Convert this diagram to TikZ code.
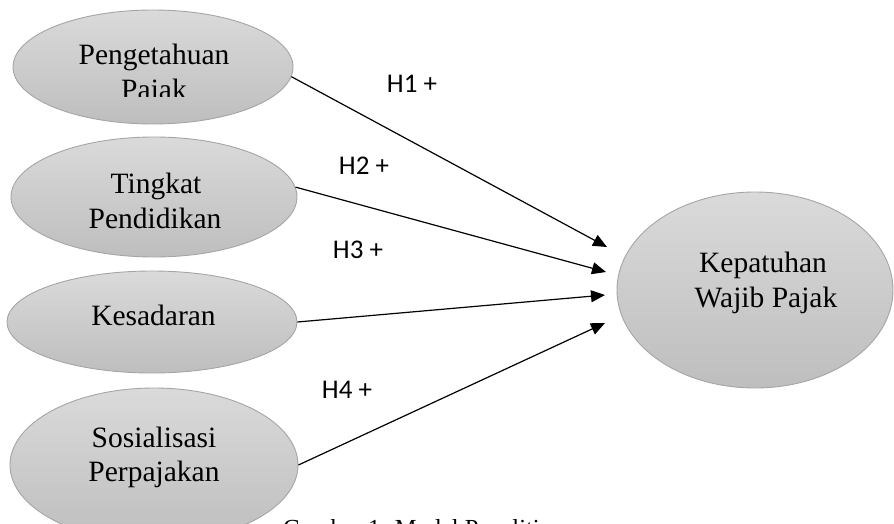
\documentclass[tikz,border=0pt]{standalone}
\usepackage{fontspec}
\setmainfont{Liberation Serif}
\newfontfamily\hfont{Carlito}
\usetikzlibrary{shapes.geometric,arrows.meta}
\definecolor{elltop}{HTML}{DADADA}
\definecolor{ellbot}{HTML}{BEBEBE}
\definecolor{elledge}{HTML}{A5A5A5}
\tikzset{
  var/.style={ellipse, draw=elledge, line width=0.9pt, top color=elltop, bottom color=ellbot, inner sep=0pt},
  vtext/.style={anchor=base, inner sep=0pt, font=\fontsize{29.5}{35}\selectfont},
  hlab/.style={inner sep=0pt, font=\hfont\fontsize{27}{32}\selectfont},
  link/.style={line width=1.2pt, -{Triangle[length=14pt,width=12pt]}}
}
\begin{document}
\begin{tikzpicture}[x=1pt,y=-1pt]
\useasboundingbox (0,0) rectangle (894,524);
% ellipses
\node[var, minimum width=280pt, minimum height=114pt] (e1) at (153,67) {};
\node[var, minimum width=286pt, minimum height=120pt] (e2) at (154,197) {};
\node[var, minimum width=290pt, minimum height=102pt] (e3) at (152,322) {};
\node[var, minimum width=288pt, minimum height=154pt] (e4) at (154,465) {};
\node[var, minimum width=276pt, minimum height=196pt] (e5) at (755,290) {};
% texts
\begin{scope}
\clip (0,0) rectangle (894,97);
\node[vtext] (t1a) at (154,65) {Pengetahuan};
\node[vtext] (t1b) at (154,100) {Pajak};
\end{scope}
\node[vtext] (t2a) at (156,193) {Tingkat};
\node[vtext] (t2b) at (155,228) {Pendidikan};
\node[vtext] (t3a) at (153.5,325) {Kesadaran};
\node[vtext] (t4a) at (154,447) {Sosialisasi};
\node[vtext] (t4b) at (154,481) {Perpajakan};
\node[vtext] (t5a) at (763,272) {Kepatuhan};
\node[vtext] (t5b) at (766,307) {Wajib Pajak};
% arrow tips
\coordinate (p1) at (607,247);
\coordinate (p2) at (606,272);
\coordinate (p3) at (605,295);
\coordinate (p4) at (605,323);
\draw[link] (e1.-4.5) -- (p1);
\draw[link] (e2.4.7) -- (p2);
\draw[link] (e3.0.8) -- (p3);
\draw[link] (e4.east) -- (p4);
% labels
\node[hlab] (h1) at (412,84) {H1 +};
\node[hlab] (h2) at (364,166) {H2 +};
\node[hlab] (h3) at (358,250) {H3 +};
\node[hlab] (h4) at (347,390) {H4 +};
% caption
\node[anchor=base west, inner sep=0pt, font=\fontsize{24.5}{29}\selectfont] (cap) at (283,536) {Gambar 1. Model Penelitian};
\end{tikzpicture}
\end{document}
